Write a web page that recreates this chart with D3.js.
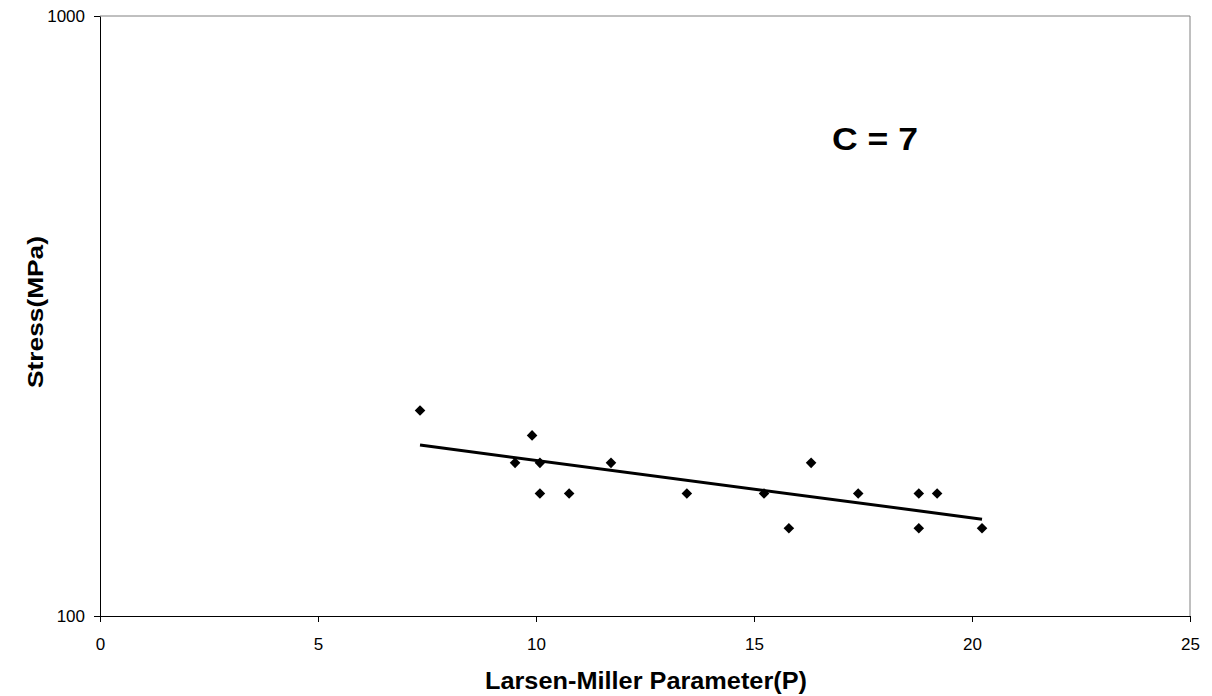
<!DOCTYPE html>
<html>
<head>
<meta charset="utf-8">
<script src="https://cdn.jsdelivr.net/npm/d3@7"></script>
<style>
  body { margin: 0; background: #fff; }
  svg { font-family: "Liberation Sans", Arial, sans-serif; }
</style>
</head>
<body>
<svg id="chart"></svg>
<script>
// Larsen-Miller parameter vs rupture stress
const lmp = [7.34, 9.91, 9.52, 10.09, 10.09, 10.76, 11.72, 13.46, 15.23, 15.80, 16.31, 17.39, 18.78, 18.78, 19.20, 20.23];
const stress = [220, 200, 180, 180, 160, 160, 180, 160, 160, 140, 180, 160, 160, 140, 160, 140];
const xTicks = [0, 5, 10, 15, 20, 25];
const yTicks = [100, 1000];

const W = 1212, H = 696;
const margin = {top: 16, right: 22, bottom: 80, left: 100};
const iw = W - margin.left - margin.right;
const ih = H - margin.top - margin.bottom;

const svg = d3.select('#chart').attr('width', W).attr('height', H);
const g = svg.append('g').attr('transform', `translate(${margin.left},${margin.top})`);

const x = d3.scaleLinear().domain([0, 25]).range([0, iw]);
const y = d3.scaleLog().domain([100, 1000]).range([ih, 0]);

// grey frame top/right
g.append('line').attr('x1', 0).attr('x2', iw).attr('y1', 0).attr('y2', 0).attr('stroke', '#808080');
g.append('line').attr('x1', iw).attr('x2', iw).attr('y1', 0).attr('y2', ih).attr('stroke', '#808080');

const xAxis = d3.axisBottom(x).tickValues(xTicks).tickFormat(d3.format('d')).tickSizeInner(6).tickSizeOuter(0).tickPadding(16);
const yAxis = d3.axisLeft(y).tickValues(yTicks).tickFormat(d3.format('d')).tickSizeInner(6).tickSizeOuter(0).tickPadding(9);

const xg = g.append('g').attr('transform', `translate(0,${ih})`).call(xAxis);
const yg = g.append('g').call(yAxis);
[xg, yg].forEach(a => {
  a.select('.domain').attr('stroke', '#000');
  a.selectAll('.tick line').attr('stroke', '#000');
  a.selectAll('.tick text').attr('font-size', 17).attr('fill', '#000')
    .attr('font-family', '"Liberation Sans", Arial, sans-serif');
});

// exponential trendline (least squares on log stress)
const pts = lmp.map((v, i) => ({x: v, y: stress[i]}));
const mx = d3.mean(pts, d => d.x);
const my = d3.mean(pts, d => Math.log(d.y));
const slope = d3.sum(pts, d => (d.x - mx) * (Math.log(d.y) - my)) / d3.sum(pts, d => (d.x - mx) ** 2);
const fit = v => Math.exp(my + slope * (v - mx));
const [xmin, xmax] = d3.extent(lmp);
g.append('path')
  .datum([xmin, xmax])
  .attr('d', d3.line().x(d => x(d)).y(d => y(fit(d))))
  .attr('stroke', '#000').attr('stroke-width', 3).attr('fill', 'none');

// diamond markers
const diamond = d3.symbol().type(d3.symbolSquare).size(56);
g.selectAll('path.pt')
  .data(pts)
  .join('path')
  .attr('class', 'pt')
  .attr('d', diamond)
  .attr('transform', d => `translate(${x(d.x)},${y(d.y)}) rotate(45)`)
  .attr('fill', '#000');

// labels
svg.append('text')
  .attr('x', 875).attr('y', 150)
  .attr('text-anchor', 'middle')
  .attr('font-size', 32).attr('font-weight', 'bold')
  .attr('textLength', 86).attr('lengthAdjust', 'spacingAndGlyphs')
  .text('C = 7');

svg.append('text')
  .attr('transform', `translate(43,312) rotate(-90)`)
  .attr('text-anchor', 'middle')
  .attr('font-size', 22).attr('font-weight', 'bold')
  .attr('textLength', 152).attr('lengthAdjust', 'spacingAndGlyphs')
  .text('Stress(MPa)');

svg.append('text')
  .attr('x', 646).attr('y', 689)
  .attr('text-anchor', 'middle')
  .attr('font-size', 24).attr('font-weight', 'bold')
  .attr('textLength', 322).attr('lengthAdjust', 'spacingAndGlyphs')
  .text('Larsen-Miller Parameter(P)');
</script>
</body>
</html>
